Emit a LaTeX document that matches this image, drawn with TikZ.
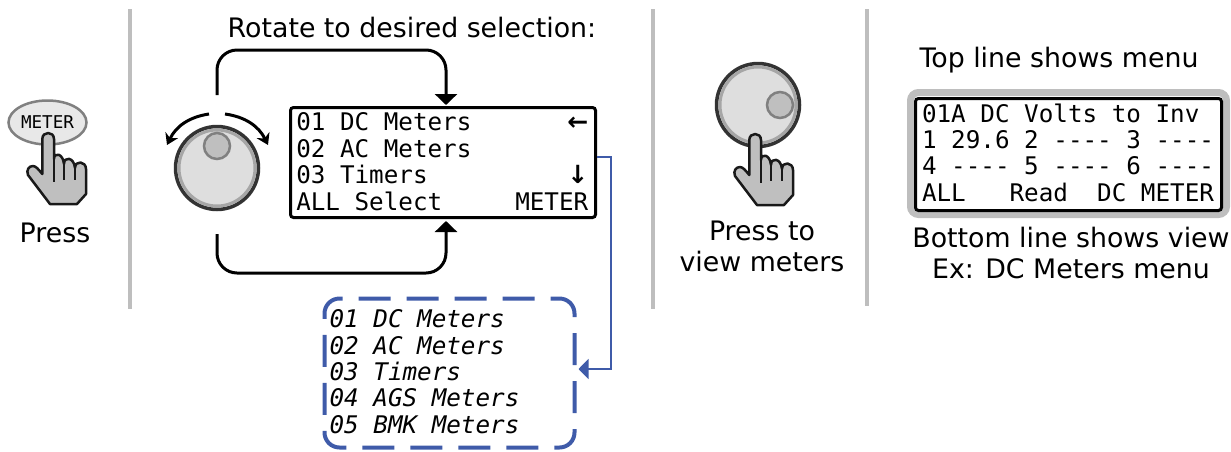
\documentclass[tikz,border=0pt]{standalone}
\usepackage{fontspec}
\setmainfont{DejaVu Sans}
\newfontfamily\lcdfont{DejaVu Sans Mono}
\usetikzlibrary{arrows.meta,shapes.geometric}
\definecolor{dividergray}{HTML}{BEBEBE}
\definecolor{menublue}{HTML}{3F5BA9}
\definecolor{knobface}{HTML}{DEDEDE}
\definecolor{knobring}{HTML}{A6A6A6}
\definecolor{knobdark}{HTML}{333333}
\definecolor{dotgray}{HTML}{BFBFBF}
\newcommand{\sanstext}{\fontsize{26.8}{31}\selectfont}
\newcommand{\lcdtext}{\fontsize{24.25}{26.4}\lcdfont}
\newcommand{\lcdarrow}[1]{\makebox[14.6pt][r]{\fontsize{25}{25}\rmfamily\bfseries #1}}
\newcommand{\lcdlift}[1]{\rule[-#1]{0pt}{#1}}
\tikzset{
  divider/.style={draw=dividergray,line width=3.5pt},
  caption/.style={align=center,inner sep=0pt,font=\sanstext},
  lcdbox/.style={rectangle,draw=black,fill=white,line width=3pt,rounded corners=3pt,align=left,inner sep=0pt,font=\lcdtext},
  knobouter/.style={circle,draw=knobdark,fill=knobface,line width=3.5pt,inner sep=0pt,minimum size=83pt},
  knobinner/.style={circle,draw=knobring,fill=knobface,line width=3pt,inner sep=0pt,minimum size=76pt},
  knobdot/.style={circle,draw=gray,fill=dotgray,line width=2.5pt,inner sep=0pt,minimum size=26pt},
  looparrow/.style={line width=3pt,rounded corners=20pt,-{Triangle[width=22pt,length=11pt]}},
  turnarrow/.style={line width=3pt,-{Stealth[width=14pt,length=11pt]}},
  menulink/.style={draw=menublue,line width=2pt,-{Triangle[width=20pt,length=10pt]}},
  handicon/.pic={
    \draw[fill=dotgray,draw=black!90,line width=2.5pt,line join=round]
      (-5.7,6) -- (-5.7,41) .. controls (-9,37) and (-12,33) .. (-15,33)
      .. controls (-19,33) and (-22,37) .. (-20,42) -- (2,71) -- (29,71) -- (38,61) -- (38,36)
      .. controls (38,28) and (27,27) .. (27,35)
      .. controls (26,24) and (16,23) .. (16,31)
      .. controls (15,20) and (6,19) .. (6,26)
      -- (6,6) .. controls (6,-2) and (-5.7,-2) .. (-5.7,6) -- cycle;
    \draw[black!90,line width=1.8pt] (6,26) -- (6,49);
    \draw[black!90,line width=1.8pt] (16,31) -- (16,47);
    \draw[black!90,line width=1.8pt] (27,35) -- (27,47);
  }
}
\begin{document}
\begin{tikzpicture}[x=1pt,y=-1pt]
\useasboundingbox (0,0) rectangle (1231,451);
%Dividers
\draw[divider] (130,9) -- (130,309);
\draw[divider] (653,9) -- (653,309);
\draw[divider] (867,9) -- (867,306);
%Press button
\node at (47.5,122.5) [ellipse,draw=gray,fill=knobface!70!white,line width=2.5pt,minimum width=78pt,minimum height=44pt,inner sep=0pt,font=\fontsize{17.6}{20}\lcdfont] (MeterButton) {\raisebox{1pt}{METER}};
\pic at (48,133) {handicon};
\node at (55,233) [caption] (PressLabel) {Press};
%Left knob
\node at (217,168) [knobouter] (KnobOne) {};
\node at (217,168) [knobinner] (KnobOneRing) {};
\node at (217,146) [knobdot] (KnobOneDot) {};
\coordinate (TurnLeftStart) at (209,114);
\coordinate (TurnLeftEnd) at (167,145);
\coordinate (TurnRightStart) at (225,114);
\coordinate (TurnRightEnd) at (268,145);
\draw[turnarrow] (TurnLeftStart) to[bend right=28] (TurnLeftEnd);
\draw[turnarrow] (TurnRightStart) to[bend left=28] (TurnRightEnd);
%Main display
\node at (412,28) [caption] (RotateLabel) {Rotate to desired selection:};
\node at (443,162.5) [lcdbox,minimum width=305pt,minimum height=110pt] (LcdBox) {01~DC~Meters~~~~~~~\lcdarrow{←}\\02~AC~Meters\\03~Timers~~~~~~~~~~\lcdarrow{↓}\\ALL~Select~~~~~METER\lcdlift{2pt}\hspace*{1.5pt}};
%Loops round the display
\coordinate (LoopTopStart) at (217,95);
\coordinate (LoopTopCorner) at (446,50);
\coordinate (LoopBottomStart) at (217,234);
\coordinate (LoopBottomCorner) at (446,273);
\draw[looparrow] (LoopTopStart) |- (LoopTopCorner) -- ([xshift=3pt,yshift=1pt]LcdBox.north);
\draw[looparrow] (LoopBottomStart) |- (LoopBottomCorner) -- ([xshift=3pt,yshift=-2pt]LcdBox.south);
%Menu list
\node at (449.5,373) [rectangle,draw=menublue,line width=4pt,dash pattern=on 32pt off 16pt,dash phase=23pt,rounded corners=15pt,minimum width=250pt,minimum height=149pt,inner sep=0pt,align=left,font=\lcdtext\itshape] (MenuBox) {01~DC~Meters\\02~AC~Meters\\03~Timers\\04~AGS~Meters\\05~BMK~Meters\lcdlift{3pt}\hspace*{50pt}};
\draw[menulink] ([yshift=5.5pt]LcdBox.east) -- ++(14,0) |- ([yshift=4pt,xshift=2pt]MenuBox.east);
%Right knob
\node at (758,105) [knobouter] (KnobTwo) {};
\node at (758,105) [knobinner] (KnobTwoRing) {};
\node at (780,105) [knobdot] (KnobTwoDot) {};
\pic at (755,134) {handicon};
\node at (762,246) [caption] (ViewLabel) {Press to\\view meters};
%Meter display
\node at (1059,60) [caption] (TopLabel) {Top line shows menu};
\node at (1068.5,153.5) [rectangle,draw=dividergray,line width=7pt,rounded corners=8pt,minimum width=316pt,minimum height=122pt] (MeterFrame) {};
\node at (1068.5,154.5) [lcdbox,minimum width=306pt,minimum height=112pt] (MeterBox) {01A~DC~Volts~to~Inv\\1~29.6~2~----~3~----\\4~----~5~----~6~----\\ALL~~~Read~~DC~METER\lcdlift{4pt}\hspace*{1pt}};
\node at (1071,253) [caption] (BottomLabel) {Bottom line shows view\\Ex: DC Meters menu};
\end{tikzpicture}
\end{document}
